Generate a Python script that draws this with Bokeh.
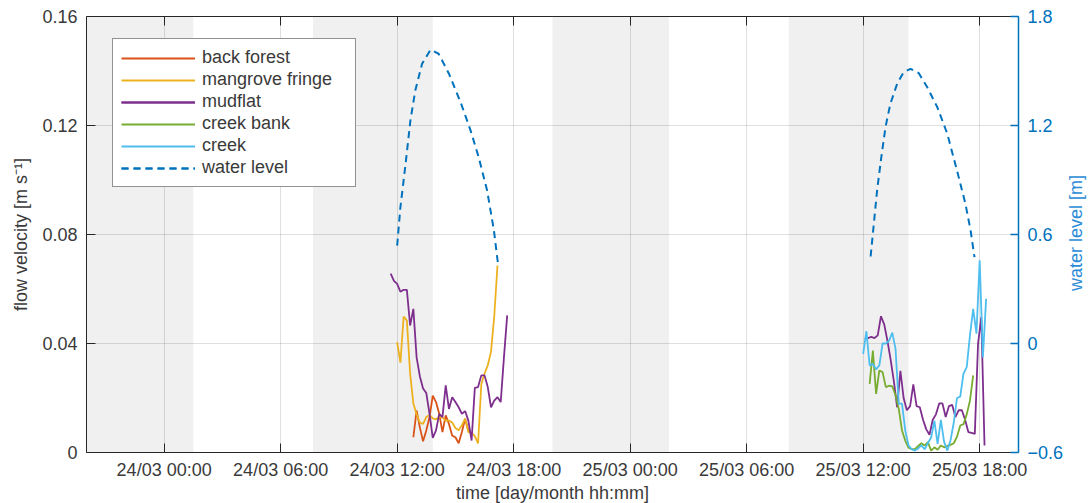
import math
import pandas as pd
from bokeh.plotting import figure
from bokeh.layouts import row
from bokeh.models import (Range1d, LinearAxis, DatetimeAxis, FixedTicker,
                          DatetimeTickFormatter, BoxAnnotation, CustomJSTickFormatter,
                          CustomLabelingPolicy, Label)
from bokeh.embed import file_html
from bokeh.resources import INLINE

# ---------------- data ----------------
x_start = "2015-03-23 20:00"
x_end = "2015-03-25 20:00"
tick_times = ["2015-03-24 00:00", "2015-03-24 06:00", "2015-03-24 12:00", "2015-03-24 18:00",
              "2015-03-25 00:00", "2015-03-25 06:00", "2015-03-25 12:00", "2015-03-25 18:00"]
vel_ticks = [0, 0.04, 0.08, 0.12, 0.16]
wl_ticks = [-0.6, 0, 0.6, 1.2, 1.8]

band_starts = ["2015-03-23 19:00", "2015-03-24 07:40", "2015-03-24 20:00", "2015-03-25 08:10"]
band_ends = ["2015-03-24 01:30", "2015-03-24 13:50", "2015-03-25 02:00", "2015-03-25 14:20"]

sample_step = "10min"

back_forest_1_start = "2015-03-24 12:50"
back_forest_1 = [0.0056, 0.0154, 0.0093, 0.0041, 0.0081, 0.0130, 0.0209, 0.0185, 0.0142, 0.0075,
                 0.0136, 0.0105, 0.0062, 0.0056, 0.0034, 0.0075, 0.0124, 0.0081, 0.0069]

mangrove_1_start = "2015-03-24 12:00"
mangrove_1 = [0.0405, 0.0330, 0.0499, 0.0484, 0.0290, 0.0180, 0.0140, 0.0110, 0.0105, 0.0130,
              0.0138, 0.0125, 0.0122, 0.0130, 0.0128, 0.0117, 0.0117, 0.0110, 0.0090, 0.0082,
              0.0100, 0.0124, 0.0075, 0.0072, 0.0060, 0.0033, 0.0250, 0.0290, 0.0320, 0.0370,
              0.0500, 0.0686]

mudflat_1_start = "2015-03-24 11:40"
mudflat_1 = [0.0656, 0.0630, 0.0619, 0.0590, 0.0597, 0.0597, 0.0466, 0.0527, 0.0350, 0.0280,
             0.0235, 0.0218, 0.0142, 0.0054, 0.0081, 0.0142, 0.0130, 0.0246, 0.0160, 0.0203,
             0.0185, 0.0166, 0.0142, 0.0152, 0.0117, 0.0044, 0.0237, 0.0240, 0.0283, 0.0283,
             0.0240, 0.0166, 0.0190, 0.0203, 0.0185, 0.0350, 0.0503]

mudflat_2_start = "2015-03-25 12:05"
mudflat_2 = [0.0417, 0.0420, 0.0424, 0.0420, 0.0430, 0.0500, 0.0470, 0.0410, 0.0340, 0.0260,
             0.0166, 0.0300, 0.0200, 0.0155, 0.0170, 0.0250, 0.0170, 0.0166, 0.0120, 0.0085,
             0.0065, 0.0120, 0.0140, 0.0180, 0.0180, 0.0130, 0.0170, 0.0175, 0.0130, 0.0155,
             0.0155, 0.0120, 0.0075, 0.0072, 0.0068, 0.0400, 0.0497, 0.0026]

creek_bank_2_start = "2015-03-25 12:20"
creek_bank_2 = [0.0252, 0.0374, 0.0215, 0.0301, 0.0295, 0.0240, 0.0245, 0.0243, 0.0210, 0.0160,
                0.0081, 0.0044, 0.0018, 0.0012, 0.0012, 0.0024, 0.0034, 0.0026, 0.0038, 0.0007,
                0.0019, 0.0010, 0.0026, 0.0019, 0.0024, 0.0028, 0.0034, 0.0058, 0.0099, 0.0104,
                0.0140, 0.0190, 0.0283]

creek_2_start = "2015-03-25 12:00"
creek_2 = [0.0362, 0.0445, 0.0320, 0.0325, 0.0305, 0.0320, 0.0400, 0.0400, 0.0410, 0.0440,
           0.0380, 0.0179, 0.0179, 0.0081, 0.0026, 0.0012, 0.0007, 0.0015, 0.0026, 0.0012,
           0.0035, 0.0055, 0.0117, 0.0032, 0.0120, 0.0040, 0.0007, 0.0045, 0.0110, 0.0200,
           0.0205, 0.0289, 0.0313, 0.0430, 0.0527, 0.0436, 0.0705, 0.0350, 0.0564]

wl_1_times = ["2015-03-24 12:00", "2015-03-24 12:10", "2015-03-24 12:26", "2015-03-24 12:41",
              "2015-03-24 12:56", "2015-03-24 13:17", "2015-03-24 13:43", "2015-03-24 14:08",
              "2015-03-24 14:40", "2015-03-24 15:16", "2015-03-24 15:47", "2015-03-24 16:12",
              "2015-03-24 16:38", "2015-03-24 16:59", "2015-03-24 17:11"]
wl_1 = [0.539, 0.750, 0.989, 1.228, 1.393, 1.540, 1.617, 1.595, 1.485, 1.328, 1.172, 1.025,
        0.842, 0.622, 0.447]

wl_2_times = ["2015-03-25 12:23", "2015-03-25 12:33", "2015-03-25 12:43", "2015-03-25 12:56",
              "2015-03-25 13:09", "2015-03-25 13:24", "2015-03-25 13:45", "2015-03-25 14:05",
              "2015-03-25 14:26", "2015-03-25 14:52", "2015-03-25 15:18", "2015-03-25 15:49",
              "2015-03-25 16:20", "2015-03-25 16:50", "2015-03-25 17:16", "2015-03-25 17:32",
              "2015-03-25 17:44"]
wl_2 = [0.479, 0.659, 0.842, 1.025, 1.191, 1.319, 1.430, 1.493, 1.512, 1.488, 1.411, 1.301,
        1.154, 0.952, 0.769, 0.622, 0.475]

wl_axis_title = "water level [m]"

# ---------------- styling ----------------
FONT = "Liberation Sans"
TXT = "#3a3a3a"
AX = "#262626"
WLC = "#0072BD"
colors = {"back forest": "#D95319", "mangrove fringe": "#EDB120", "mudflat": "#7E2F8E",
          "creek bank": "#77AC30", "creek": "#4DBEEE", "water level": "#0072BD"}
FRAME_W, FRAME_H = 932, 436
TOTAL_H = 503


def ms(t):
    return pd.Timestamp(t).value // 10**6


def times(start, vals):
    return pd.date_range(start, periods=len(vals), freq=sample_step)


p = figure(frame_width=FRAME_W, frame_height=FRAME_H, output_backend="svg", toolbar_location=None,
           x_axis_type="datetime",
           x_range=Range1d(pd.Timestamp(x_start), pd.Timestamp(x_end)),
           y_range=Range1d(0, 0.16),
           min_border_left=86, min_border_right=46, min_border_top=16, min_border_bottom=51,
           background_fill_color="white", border_fill_color="white")
p.outline_line_color = None
p.extra_y_ranges = {"wl": Range1d(-0.6, 1.8)}

xticker = FixedTicker(ticks=[ms(t) for t in tick_times])
fmt = DatetimeTickFormatter(hours="%d/%m %H:%M", days="%d/%m %H:%M", minutes="%d/%m %H:%M",
                            hourmin="%d/%m %H:%M", months="%d/%m %H:%M")

for s, e in zip(band_starts, band_ends):
    p.add_layout(BoxAnnotation(left=pd.Timestamp(s), right=pd.Timestamp(e),
                               fill_color="#f0f0f0", fill_alpha=1.0, line_color=None,
                               level="image"))

# bottom axis
xa = p.xaxis[0]
xa.ticker = xticker
xa.formatter = fmt
xa.axis_label = "time [day/month hh:mm]"
xa.major_tick_in = 9
xa.major_tick_out = 0
xa.minor_tick_in = 0
xa.minor_tick_out = 0
xa.major_label_standoff = 7
xa.axis_label_standoff = 0

# left axis
ya = p.yaxis[0]
ya.ticker = FixedTicker(ticks=vel_ticks)
ya.major_label_overrides = {0: "0"}
ya.axis_label = "flow velocity [m s\u207b\u00b9]"
ya.major_tick_in = 9
ya.major_tick_out = 0
ya.minor_tick_in = 0
ya.minor_tick_out = 0
ya.major_label_standoff = 9
ya.axis_label_standoff = 8

# top axis (box edge with inward ticks, no labels)
top = DatetimeAxis(ticker=xticker, formatter=CustomJSTickFormatter(code="return ''"),
                   major_tick_in=9, major_tick_out=0,
                   minor_tick_in=0, minor_tick_out=0, major_label_text_font_size="1px",
                   major_label_standoff=0,
                   major_label_policy=CustomLabelingPolicy(
                       code="for (const i of indices) { indices.unset(i) }\nreturn indices"))
p.add_layout(top, "above")

# right axis (water level)
ra = LinearAxis(y_range_name="wl", ticker=FixedTicker(ticks=wl_ticks),
                major_label_overrides={0: "0"},
                major_tick_in=8, major_tick_out=0, minor_tick_in=0, minor_tick_out=0,
                major_label_standoff=9)
p.add_layout(ra, "right")

for ax in [xa, ya, top]:
    ax.axis_line_color = AX
    ax.major_tick_line_color = AX
    ax.axis_line_width = 1
for ax in [xa, ya]:
    ax.major_label_text_font = FONT
    ax.major_label_text_font_size = "18px"
    ax.major_label_text_color = TXT
    ax.axis_label_text_font = FONT
    ax.axis_label_text_font_size = "18px"
    ax.axis_label_text_font_style = "normal"
    ax.axis_label_text_color = TXT
ra.axis_line_color = WLC
ra.axis_line_width = 1.5
ra.major_tick_line_color = WLC
ra.major_tick_line_width = 1.5
ra.major_label_text_font = FONT
ra.major_label_text_font_size = "18px"
ra.major_label_text_color = WLC

p.xgrid.ticker = xticker
p.xgrid.grid_line_color = AX
p.xgrid.grid_line_alpha = 0.15
p.ygrid.grid_line_color = AX
p.ygrid.grid_line_alpha = 0.15

LW = 1.8
p.line(times(back_forest_1_start, back_forest_1), back_forest_1, line_color=colors["back forest"],
       line_width=LW, legend_label="back forest")
p.line(times(mangrove_1_start, mangrove_1), mangrove_1, line_color=colors["mangrove fringe"],
       line_width=LW, legend_label="mangrove fringe")
p.line(times(mudflat_1_start, mudflat_1), mudflat_1, line_color=colors["mudflat"],
       line_width=LW, legend_label="mudflat")
p.line(times(mudflat_2_start, mudflat_2), mudflat_2, line_color=colors["mudflat"],
       line_width=LW, legend_label="mudflat")
p.line(times(creek_bank_2_start, creek_bank_2), creek_bank_2, line_color=colors["creek bank"],
       line_width=LW, legend_label="creek bank")
p.line(times(creek_2_start, creek_2), creek_2, line_color=colors["creek"],
       line_width=LW, legend_label="creek")
p.line(pd.to_datetime(wl_1_times), wl_1, y_range_name="wl", line_color=colors["water level"],
       line_width=2, line_dash="7 5", legend_label="water level")
p.line(pd.to_datetime(wl_2_times), wl_2, y_range_name="wl", line_color=colors["water level"],
       line_width=2, line_dash="7 5", legend_label="water level")

lg = p.legend[0]
lg.location = (26, 265)
lg.border_line_color = AX
lg.border_line_width = 1
lg.background_fill_color = "white"
lg.background_fill_alpha = 1
lg.label_text_font = FONT
lg.label_text_font_size = "18px"
lg.label_text_color = TXT
lg.glyph_width = 74
lg.glyph_height = 20
lg.label_height = 20
lg.label_width = 145
lg.label_standoff = 7
lg.spacing = 1
lg.padding = 8
lg.margin = 0

# narrow strip holding the right-axis title, reading bottom-to-top
side_w = 1088 - (86 + FRAME_W + 46)
p2 = figure(width=side_w, height=TOTAL_H, output_backend="svg", toolbar_location=None,
            x_range=Range1d(0, 1), y_range=Range1d(0, TOTAL_H), min_border=0,
            background_fill_color="white", border_fill_color="white")
p2.axis.visible = False
p2.grid.visible = False
p2.outline_line_color = None
# centred on the main plot frame (rotated text box anchors about 17 px high, so offset it)
p2.add_layout(Label(x=0.4, y=TOTAL_H - (16 + FRAME_H / 2) - 17, text=wl_axis_title,
                    angle=math.pi / 2, text_align="center", text_baseline="middle",
                    text_font=FONT, text_font_size="18px", text_color="#2b8bd6"))

layout = row(p, p2, spacing=0)
open("out.html", "w").write(file_html(layout, INLINE))
